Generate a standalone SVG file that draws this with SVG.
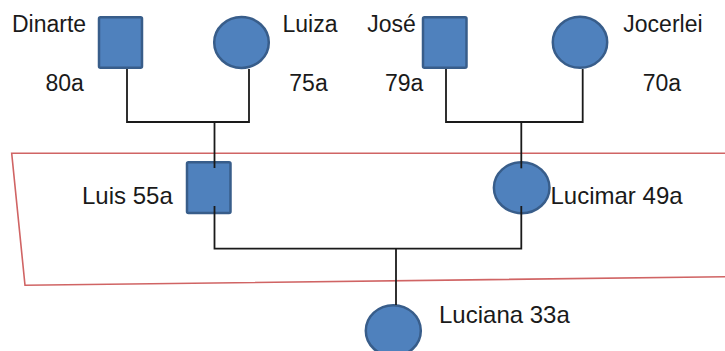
<svg xmlns="http://www.w3.org/2000/svg" width="725" height="351" viewBox="0 0 725 351">
  <style>
    .male { fill: #4f81bd; stroke: #385d8a; stroke-width: 2.5; }
    .female { fill: #4f81bd; stroke: #385d8a; stroke-width: 2.5; }
    .link { fill: none; stroke: #1a1a1a; stroke-width: 1.8; stroke-linejoin: miter; }
    .frame { fill: none; stroke: #d06464; stroke-width: 1.6; }
    text { font-family: "Liberation Sans", Arial, sans-serif; fill: #1a1a1a; }
    .t1 { font-size: 23px; }
    .t2 { font-size: 24px; }
  </style>

  <rect width="725" height="351" fill="#ffffff"/>

  <!-- generation frame -->
  <polygon class="frame" points="11.7,153.3 726,153.3 726,276.7 25,285.3"/>

  <g id="dinarte">
    <rect class="male" x="99" y="17.3" width="43" height="50.5" rx="1.5"/>
    <text class="t1" x="12" y="32.3">Dinarte</text>
    <text class="t1" x="45.5" y="90.7">80a</text>
  </g>

  <g id="luiza">
    <ellipse class="female" cx="241.5" cy="42.5" rx="27.3" ry="25.4"/>
    <text class="t1" x="282.5" y="32.3">Luiza</text>
    <text class="t1" x="289.3" y="90.7">75a</text>
  </g>

  <g id="jose">
    <rect class="male" x="423" y="17.3" width="43.5" height="50.5" rx="1.5"/>
    <text class="t1" x="367.3" y="32.3">José</text>
    <text class="t1" x="385" y="90.7">79a</text>
  </g>

  <g id="jocerlei">
    <ellipse class="female" cx="580" cy="42.3" rx="27.2" ry="25.5"/>
    <text class="t1" x="623.3" y="32.3">Jocerlei</text>
    <text class="t1" x="642.7" y="90.7">70a</text>
  </g>

  <g id="luis">
    <rect class="male" x="187" y="162.3" width="43.5" height="50.7" rx="1.5"/>
    <text class="t2" x="82" y="204">Luis 55a</text>
  </g>

  <g id="lucimar">
    <ellipse class="female" cx="521.7" cy="187.7" rx="27.8" ry="25.5"/>
    <text class="t2" x="550.5" y="204">Lucimar 49a</text>
  </g>

  <g id="luciana">
    <ellipse class="female" cx="393.3" cy="330.7" rx="27.5" ry="25.5"/>
    <text class="t2" x="439" y="323.3">Luciana 33a</text>
  </g>

  <g id="connectors">
    <polyline class="link" points="127,69 127,122 249,122 249,69"/>
    <line class="link" x1="214.5" y1="122" x2="214.5" y2="168"/>
    <polyline class="link" points="446,69 446,122 582.7,122 582.7,69"/>
    <line class="link" x1="521.3" y1="122" x2="521.3" y2="168.3"/>
    <polyline class="link" points="214.5,206 214.5,248.7 521.3,248.7 521.3,206"/>
    <line class="link" x1="396" y1="248.7" x2="396" y2="305"/>
  </g>
</svg>
